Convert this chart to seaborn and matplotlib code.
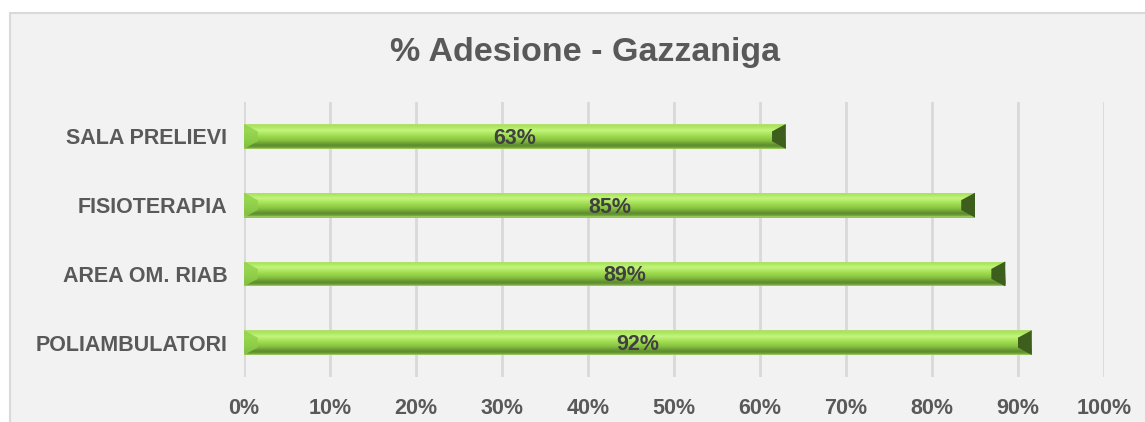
import numpy as np
import pandas as pd
import matplotlib
matplotlib.use("Agg")
import matplotlib.pyplot as plt
from matplotlib.patches import Rectangle, Polygon
from matplotlib.colors import LinearSegmentedColormap
import seaborn as sns

categories = ["SALA PRELIEVI", "FISIOTERAPIA", "AREA OM. RIAB", "POLIAMBULATORI"]
values = [0.63, 0.85, 0.885, 0.916]
labels = ["63%", "85%", "89%", "92%"]
xticks = [0, 0.1, 0.2, 0.3, 0.4, 0.5, 0.6, 0.7, 0.8, 0.9, 1.0]
xticklabels = ["0%", "10%", "20%", "30%", "40%", "50%", "60%", "70%", "80%", "90%", "100%"]
title = "% Adesione - Gazzaniga"

sns.set_theme(style="white")
plt.rcParams['font.family'] = ['Liberation Sans', 'DejaVu Sans']

W, H = 1145, 422
fig = plt.figure(figsize=(W / 100, H / 100), dpi=100, facecolor="white")
# chart panel
fig.patches.append(Rectangle((10 / W, -0.1), 1.2, (H - 13) / H + 0.1, transform=fig.transFigure,
                             facecolor="#f2f2f2", edgecolor="#d9d9d9", linewidth=1.5, zorder=-5))

ax = fig.add_axes([244 / W, 1 - 377 / H, (1104 - 244) / W, (377 - 102) / H])
ax.set_facecolor("none")

df = pd.DataFrame({"cat": categories, "val": values})
sns.barplot(data=df, x="val", y="cat", orient="h", width=0.36, color="#9ad648",
            ax=ax, zorder=3, linewidth=0)

ax.set_xticks(xticks)
ax.set_xticklabels(xticklabels, fontsize=15.5, fontweight="bold", color="#595959")
ax.tick_params(axis="y", labelsize=15.5, labelcolor="#595959", length=0, pad=12)
ax.tick_params(axis="x", length=0, pad=15)
for t in ax.get_yticklabels():
    t.set_fontweight("bold")
ax.set_xlabel("")
ax.set_ylabel("")
for s in ax.spines.values():
    s.set_visible(False)
ax.grid(axis="x", color="#d9d9d9", linewidth=2, zorder=0)
ax.set_axisbelow(True)

# gradient fill for a 3D-bevel look
cmap = LinearSegmentedColormap.from_list("bev", [
    (0.0, "#b7dc7c"), (0.08, "#a8e55a"), (0.25, "#c4f57e"), (0.45, "#a2df52"),
    (0.65, "#88c342"), (0.85, "#5e8c2e"), (0.93, "#6a9a34"), (1.0, "#a6d468")])
grad = np.linspace(0, 1, 200).reshape(-1, 1)
bars = list(ax.patches)
for p, lab in zip(bars, labels):
    x0, y0 = p.get_x(), p.get_y()
    w, h = p.get_width(), p.get_height()
    im = ax.imshow(grad, cmap=cmap, aspect="auto", extent=(x0, x0 + w, y0 + h, y0),
                   zorder=4, interpolation="bilinear")
    im.set_clip_path(p)
    b = 0.016
    ax.add_patch(Polygon([(x0 + w - b, y0 + h * 0.3), (x0 + w, y0), (x0 + w, y0 + h),
                          (x0 + w - b, y0 + h * 0.7)], closed=True,
                         facecolor="#3d5e1c", edgecolor="none", zorder=5))
    ax.add_patch(Polygon([(x0, y0), (x0 + b, y0 + h * 0.3), (x0 + b, y0 + h * 0.7), (x0, y0 + h)],
                         closed=True, facecolor="#8fcf4a", edgecolor="none", zorder=5, alpha=0.8))
    ax.text(x0 + w / 2, y0 + h / 2 + 0.03, lab, ha="center", va="center", fontsize=15.5,
            fontweight="bold", color="#404040", zorder=6)

ax.set_xlim(0, 1.0)
ax.set_ylim(3.5, -0.5)
ax.set_aspect("auto")

fig.text(585 / W, 1 - 52 / H, title, ha="center", va="center", fontsize=24.5,
         fontweight="bold", color="#595959")

fig.savefig("out.png", dpi=100, facecolor="white")
